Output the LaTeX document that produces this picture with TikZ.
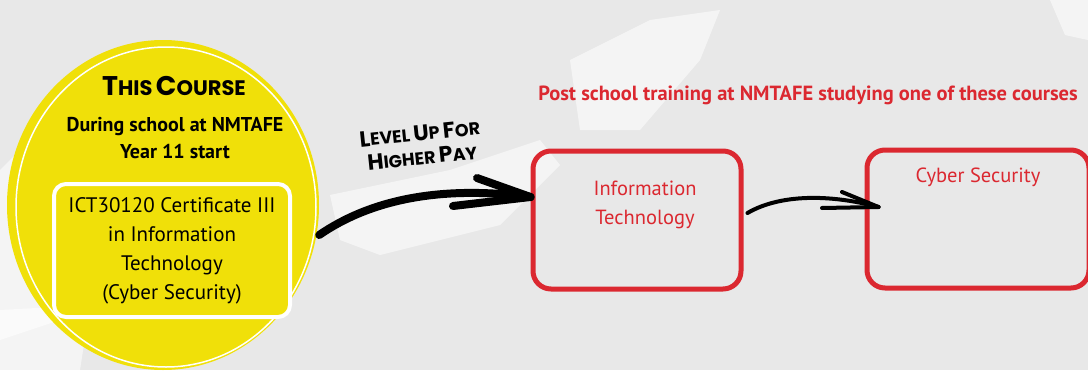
\documentclass[tikz,border=0pt]{standalone}
\usepackage{fontspec}
\setmainfont{PT Sans}
\newfontfamily\hand{Poppins}
\usetikzlibrary{shapes.geometric}
\definecolor{bggrey}{HTML}{E8E8E8}
\definecolor{cyell}{HTML}{F0E009}
\definecolor{cred}{HTML}{DB2830}
\tikzset{
  brush/.style={fill=white, opacity=0.55, draw=none},
  redbox/.style={draw=cred, line width=5pt, rounded corners=18pt, minimum width=208pt, minimum height=138pt, inner sep=0pt},
  redtxt/.style={text=cred, font=\fontsize{20.5}{29}\selectfont, align=center},
  blktxt/.style={text=black, font=\fontsize{21}{29}\selectfont, align=center},
  handtxt/.style={text=black, font=\hand\bfseries\fontsize{16}{24}\selectfont, align=center},
  bigarrow/.style={draw=black, line width=8pt, line cap=round},
  smallarrow/.style={draw=black, line width=4pt, line cap=round},
}
\newcommand{\smc}[2]{{\fontsize{27}{27}\selectfont #1}{\fontsize{21}{27}\selectfont #2}}
\newcommand{\smcs}[2]{{\fontsize{22}{24}\selectfont #1}{\fontsize{17.5}{24}\selectfont #2}}
\begin{document}
\begin{tikzpicture}[x=1pt,y=-1pt]
\useasboundingbox (0,0) rectangle (1088,370);
\fill[bggrey] (0,0) rectangle (1088,370);
% white brush strokes in the background
\fill[brush] (0,170) -- (30,140) -- (50,170) -- (40,260) -- (60,320) -- (0,340) -- cycle;
\fill[brush] (330,195) -- (450,170) -- (540,140) -- (560,165) -- (500,225) -- (380,255) -- (340,240) -- cycle;
\fill[brush] (570,60) -- (650,20) -- (720,10) -- (700,60) -- (640,130) -- (580,130) -- cycle;
\fill[brush] (1050,0) -- (1088,0) -- (1088,40) -- (1065,35) -- cycle;
\fill[brush] (0,310) -- (90,305) -- (80,370) -- (0,370) -- cycle;
% yellow circle
\node[ellipse, fill=cyell, minimum width=312pt, minimum height=330pt, inner sep=0pt] (course) at (163,205) {};
\draw[white, line width=1.5pt] (166,207) ellipse [x radius=150, y radius=160];
% inner certificate box
\node[draw=white, fill=cyell, line width=4pt, rounded corners=12pt, minimum width=236pt, minimum height=133pt, inner sep=0pt] (cert) at (172,250.5) {};
\node[blktxt] (certtxt) at (cert.center) {ICT30120 Certificate III\\in Information\\Technology\\(Cyber Security)};
% titles
\node[handtxt] (title) at (174,86) {\smc{T}{HIS} \smc{C}{OURSE}};
\node[blktxt, font=\bfseries\fontsize{20}{27}\selectfont] (during) at (175,138.5) {During school at NMTAFE\\Year 11 start};
% level up text
\node[handtxt, rotate=6] (level) at (421,145) {\smcs{L}{EVEL} \smcs{U}{P} \smcs{F}{OR}\\\smcs{H}{IGHER} \smcs{P}{AY}};
% post school header
\node[redtxt, font=\bfseries\fontsize{20.5}{24}\selectfont] (post) at (808,95) {Post school training at NMTAFE studying one of these courses};
% red boxes
\node[redbox] (it) at (637,220) {};
\node[redtxt] (ittxt) at (645,205) {Information\\Technology};
\node[redbox, minimum width=222pt] (cs) at (978,219) {};
\node[redtxt] (cstxt) at (978,177) {Cyber Security};
% arrows
\coordinate (a1s) at ([yshift=-30pt]course.east);
\coordinate (a1e) at ([yshift=23pt]it.west);
\draw[bigarrow] (a1s) .. controls (370,200) and (440,185) .. (a1e);
\draw[bigarrow] (477,178) -- (a1e);
\draw[bigarrow] (453,206) -- (a1e);
\coordinate (a2s) at ([xshift=4pt,yshift=7pt]it.east);
\coordinate (a2e) at ([xshift=14pt,yshift=12pt]cs.west);
\draw[smallarrow] (a2s) .. controls (780,194) and (830,194) .. (a2e);
\draw[smallarrow] (842,192) -- (a2e);
\draw[smallarrow] (822,208) -- (a2e);
\end{tikzpicture}
\end{document}
